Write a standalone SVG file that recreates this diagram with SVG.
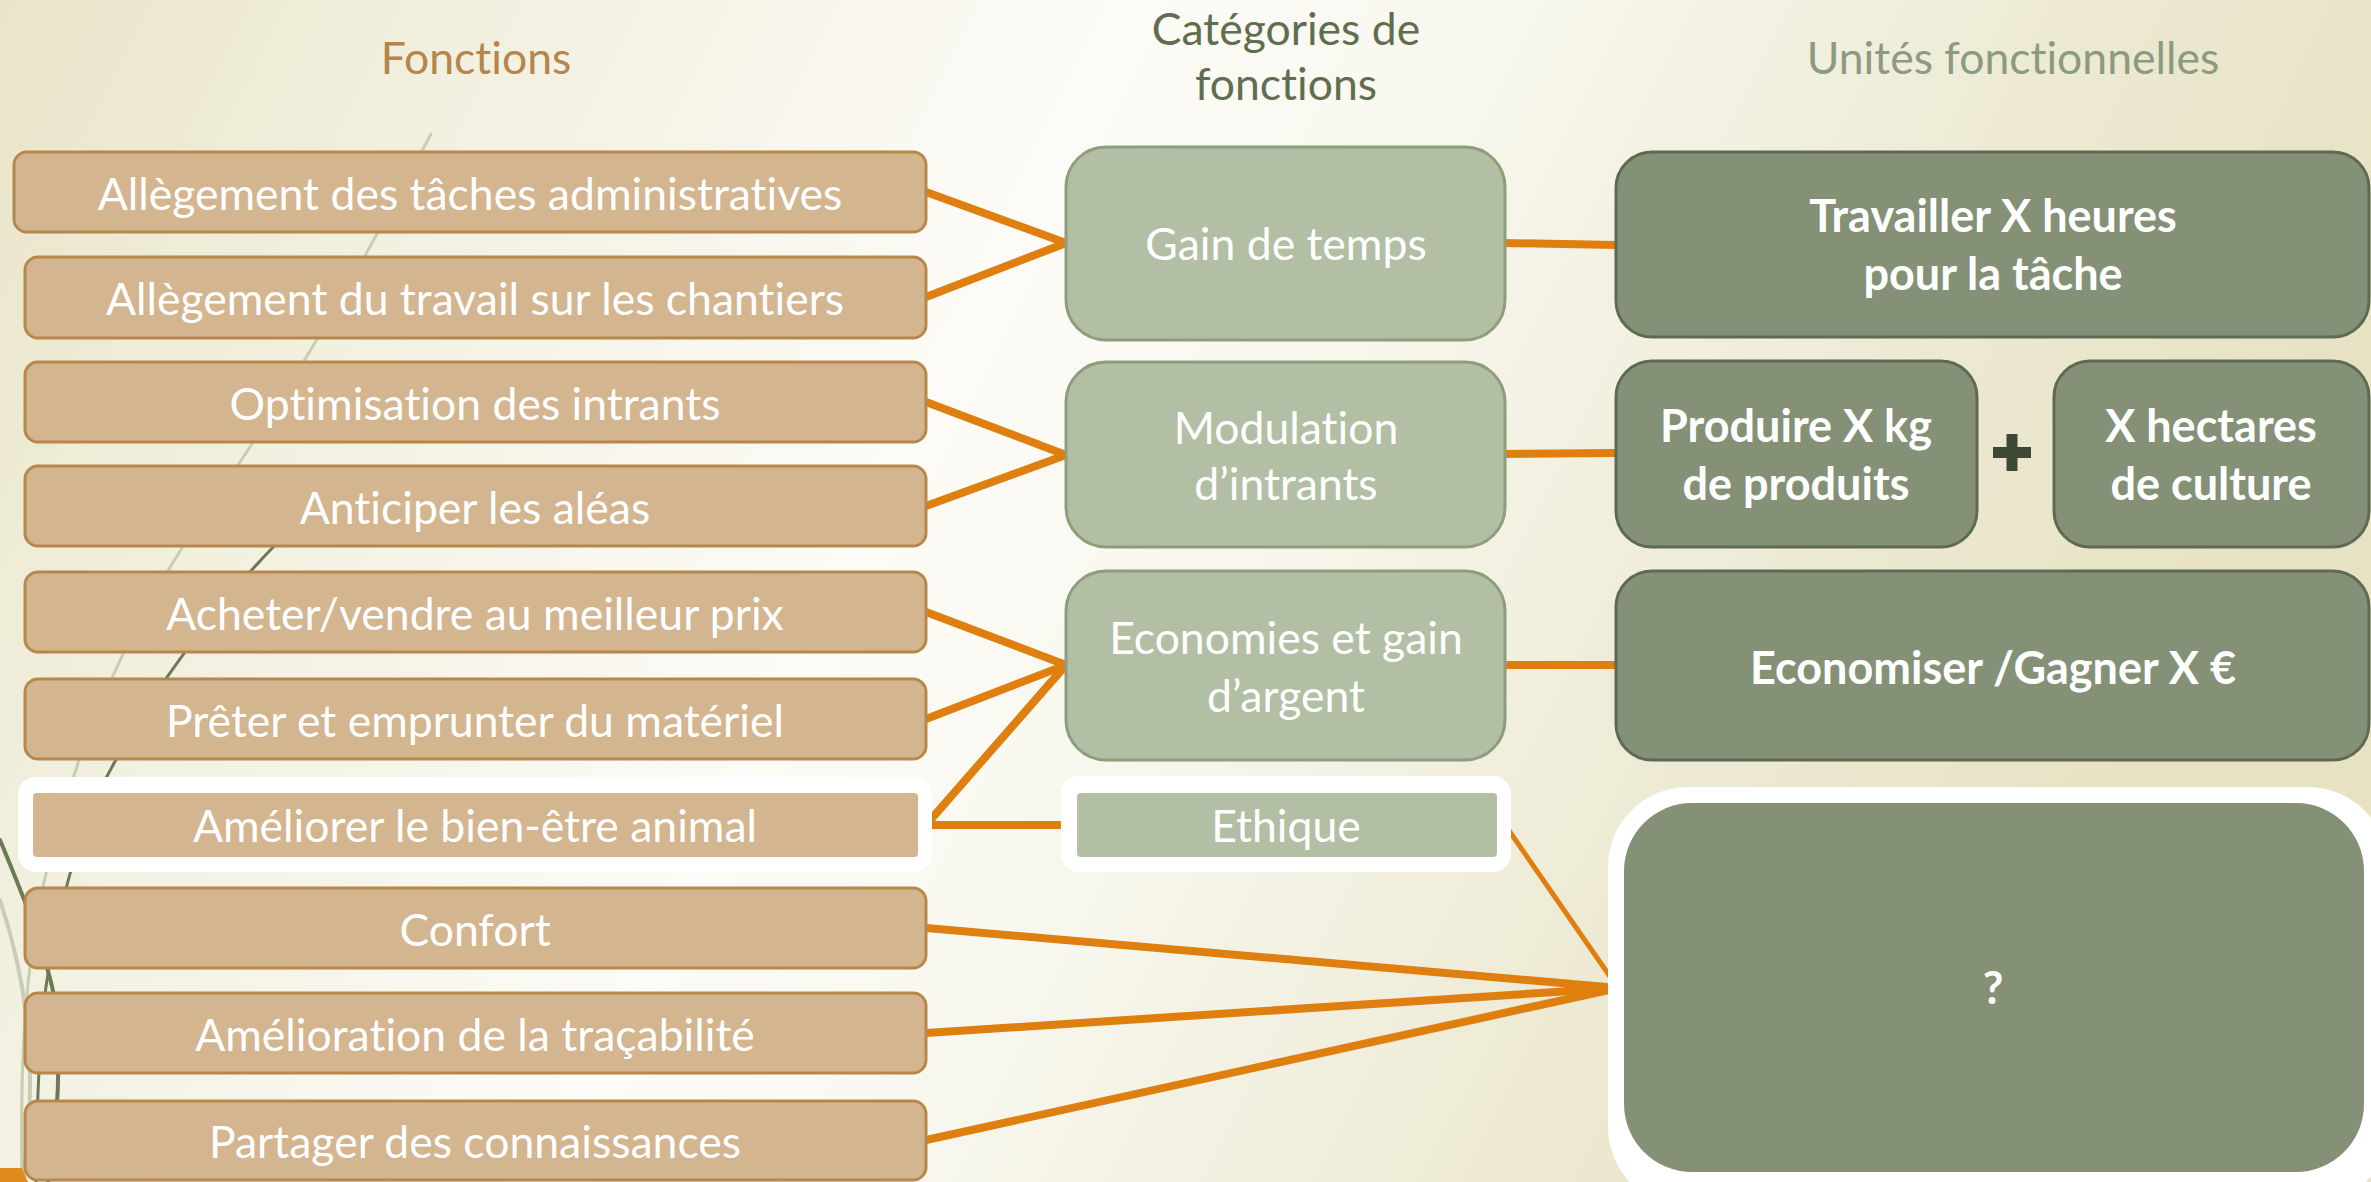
<svg xmlns="http://www.w3.org/2000/svg" width="2371" height="1182" viewBox="0 0 2371 1182">
  <defs>
    <linearGradient id="bg" x1="0" y1="0" x2="1" y2="0.25">
      <stop offset="0" stop-color="#E9E5C9"/>
      <stop offset="0.22" stop-color="#F3F1E2"/>
      <stop offset="0.45" stop-color="#FCFBF7"/>
      <stop offset="0.6" stop-color="#F8F7EE"/>
      <stop offset="0.8" stop-color="#EEEBD6"/>
      <stop offset="1" stop-color="#E7E2C3"/>
    </linearGradient>
    <style>
      .fn rect.b { fill: #D3B590; stroke: #B8874A; stroke-width: 3; }
      .cat rect.b { fill: #B2BFA5; stroke: #8E9D7B; stroke-width: 3; }
      .un rect.b { fill: #859177; stroke: #5E6A52; stroke-width: 3; }
      .halo { fill: #FFFFFF; }
      text { font-variant-ligatures: none; font-feature-settings: "liga" 0, "dlig" 0; }
      .t { font-family: Lato, "Open Sans", "Liberation Sans", sans-serif; font-size: 44.5px; fill: #FFFFFF; text-anchor: middle; }
      .tb { font-family: Lato, "Open Sans", "Liberation Sans", sans-serif; font-size: 45px; font-weight: bold; fill: #FFFFFF; text-anchor: middle; }
      .h { font-family: Lato, "Open Sans", "Liberation Sans", sans-serif; font-size: 44.5px; text-anchor: middle; }
      .c { fill: none; stroke: #DF7F10; stroke-width: 8; stroke-linejoin: round; stroke-linecap: round; }
      .deco { fill: none; stroke-linecap: round; }
    </style>
  </defs>

  <rect x="0" y="0" width="2371" height="1182" fill="url(#bg)"/>

  <g id="decoration">
    <path class="deco" d="M431,134 C380,230 300,380 200,520 C120,640 70,760 40,900 C25,980 20,1060 22,1182" stroke="#C9CDB5" stroke-width="3"/>
    <path class="deco" d="M285,535 C220,600 150,690 100,790 C70,860 50,940 42,1020 C38,1080 36,1130 36,1182" stroke="#6B7A55" stroke-width="3"/>
    <path class="deco" d="M0,840 C25,900 45,950 55,1000 C62,1060 58,1120 48,1182" stroke="#6B7A55" stroke-width="4"/>
    <path class="deco" d="M0,900 C20,960 30,1020 30,1080 C30,1130 26,1160 22,1182" stroke="#C9CDB5" stroke-width="4"/>
    <path d="M0,1168 L22,1168 L28,1182 L0,1182 Z" fill="#E08A1E"/>
  </g>

  <g id="headers">
    <text class="h" x="476" y="74" fill="#B5854C">Fonctions</text>
    <text class="h" x="1286" y="45" fill="#5F6E4E">Catégories de</text>
    <text class="h" x="1286" y="100" fill="#5F6E4E">fonctions</text>
    <text class="h" x="2013" y="74" fill="#8C9A7F">Unités fonctionnelles</text>
  </g>

  <g id="connectors">
    <polyline class="c" points="926,192 1066,243 926,297"/>
    <line class="c" x1="1505" y1="243" x2="1616" y2="245"/>
    <polyline class="c" points="926,402 1066,455 926,506"/>
    <line class="c" x1="1505" y1="454" x2="1616" y2="453"/>
    <polyline class="c" points="926,612 1066,665 926,719"/>
    <polyline class="c" points="1059,825 926,825 1066,665"/>
    <line class="c" x1="1505" y1="665" x2="1616" y2="665"/>
    <line class="c" x1="1503" y1="822" x2="1618" y2="988" style="stroke-width:5"/>
    <polyline class="c" points="926,928 1618,988 926,1033"/>
    <line class="c" x1="926" y1="1140" x2="1618" y2="988"/>
  </g>

  <g id="fn1" class="fn"><rect class="b" x="14" y="152" width="912" height="80" rx="13"/><text class="t" x="470" y="210">Allègement des tâches administratives</text></g>
  <g id="fn2" class="fn"><rect class="b" x="25" y="257" width="901" height="81" rx="13"/><text class="t" x="475" y="315">Allègement du travail sur les chantiers</text></g>
  <g id="fn3" class="fn"><rect class="b" x="25" y="362" width="901" height="80" rx="13"/><text class="t" x="475" y="420">Optimisation des intrants</text></g>
  <g id="fn4" class="fn"><rect class="b" x="25" y="466" width="901" height="80" rx="13"/><text class="t" x="475" y="524">Anticiper les aléas</text></g>
  <g id="fn5" class="fn"><rect class="b" x="25" y="572" width="901" height="80" rx="13"/><text class="t" x="475" y="630">Acheter/vendre au meilleur prix</text></g>
  <g id="fn6" class="fn"><rect class="b" x="25" y="679" width="901" height="80" rx="13"/><text class="t" x="475" y="737">Prêter et emprunter du matériel</text></g>
  <g id="fn7" class="fn">
    <rect class="halo" x="18" y="777" width="914" height="95" rx="18"/>
    <rect x="33" y="793" width="885" height="64" rx="4" fill="#D3B590"/>
    <text class="t" x="475" y="842">Améliorer le bien-être animal</text>
  </g>
  <g id="fn8" class="fn"><rect class="b" x="25" y="888" width="901" height="80" rx="13"/><text class="t" x="475" y="946">Confort</text></g>
  <g id="fn9" class="fn"><rect class="b" x="25" y="993" width="901" height="80" rx="13"/><text class="t" x="475" y="1051">Amélioration de la traçabilité</text></g>
  <g id="fn10" class="fn"><rect class="b" x="25" y="1101" width="901" height="79" rx="13"/><text class="t" x="475" y="1158">Partager des connaissances</text></g>

  <g id="cat1" class="cat"><rect class="b" x="1066" y="147" width="439" height="193" rx="40"/><text class="t" x="1286" y="260">Gain de temps</text></g>
  <g id="cat2" class="cat"><rect class="b" x="1066" y="362" width="439" height="185" rx="40"/><text class="t" x="1286" y="444">Modulation</text><text class="t" x="1286" y="500">d’intrants</text></g>
  <g id="cat3" class="cat"><rect class="b" x="1066" y="571" width="439" height="189" rx="40"/><text class="t" x="1286" y="654">Economies et gain</text><text class="t" x="1286" y="712">d’argent</text></g>
  <g id="cat4" class="cat">
    <rect class="halo" x="1061" y="776" width="450" height="96" rx="18"/>
    <rect x="1077" y="793" width="420" height="64" rx="4" fill="#B2BFA5"/>
    <text class="t" x="1286" y="842">Ethique</text>
  </g>

  <g id="un1" class="un"><rect class="b" x="1616" y="152" width="753" height="185" rx="36"/><text class="tb" x="1993" y="232">Travailler X heures</text><text class="tb" x="1993" y="290">pour la tâche</text></g>
  <g id="un2" class="un"><rect class="b" x="1616" y="361" width="361" height="186" rx="36"/><text class="tb" x="1796" y="442">Produire X kg</text><text class="tb" x="1796" y="500">de produits</text></g>
  <g id="plus"><rect x="1993" y="447" width="38" height="11" fill="#3D4835"/><rect x="2006.5" y="434" width="11" height="37" fill="#3D4835"/></g>
  <g id="un3" class="un"><rect class="b" x="2054" y="361" width="315" height="186" rx="36"/><text class="tb" x="2211" y="442">X hectares</text><text class="tb" x="2211" y="500">de culture</text></g>
  <g id="un4" class="un"><rect class="b" x="1616" y="571" width="753" height="189" rx="36"/><text class="tb" x="1993" y="684">Economiser /Gagner X €</text></g>
  <g id="un5" class="un">
    <rect class="halo" x="1608" y="787" width="780" height="420" rx="80"/>
    <rect x="1624" y="803" width="740" height="369" rx="68" fill="#859177"/>
    <text class="tb" x="1993" y="1004">?</text>
  </g>
</svg>
